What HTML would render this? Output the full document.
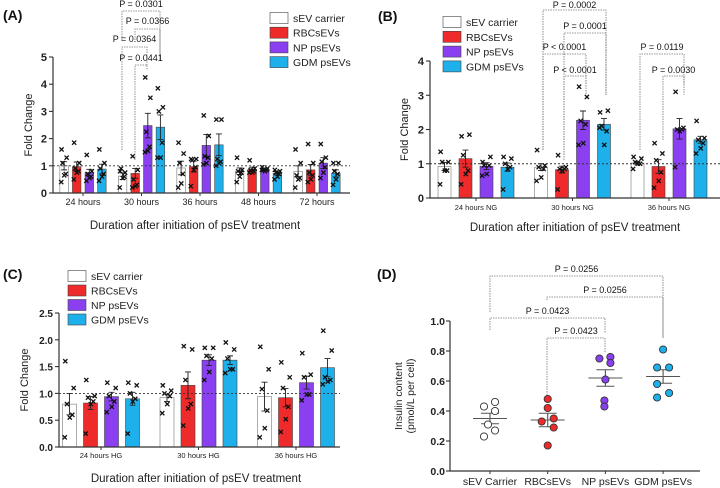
<!DOCTYPE html>
<html><head><meta charset="utf-8">
<style>
html,body{margin:0;padding:0;background:#fff;}
svg{display:block;font-family:"Liberation Sans",Arial,sans-serif;}
</style></head>
<body>
<svg id="fig" width="720" height="488" viewBox="0 0 720 488"></svg>
<script>
// ---------- DATA ----------
const seriesNames = ["sEV carrier","RBCsEVs","NP psEVs","GDM psEVs"];
const seriesColors = ["#ffffff","#ee2a2a","#8a3ff0","#1db0ea"];

const catsA = ["24 hours","30 hours","36 hours","48 hours","72 hours"];
const meansA = [[1.0,0.97,0.75,0.88],[0.62,0.72,2.48,2.42],[0.92,0.97,1.75,1.77],[0.8,0.87,0.85,0.72],[0.8,0.85,1.1,0.72]];
const errA = [[0.15,0.17,0.12,0.18],[0.12,0.18,0.45,0.45],[0.25,0.2,0.4,0.4],[0.12,0.08,0.04,0.06],[0.2,0.2,0.2,0.13]];
const ptsA = [
 [[1.6,1.3,1.1,0.7,0.65,0.4],[1.85,1.1,0.9,0.8,0.75,0.5],[1.4,0.8,0.7,0.6,0.55,0.45],[1.6,1.1,0.9,0.7,0.6,0.45]],
 [[0.8,0.75,0.9,0.6,0.55,0.2],[1.35,0.85,0.5,0.3,0.25,0.2],[4.25,3.5,2.25,1.7,1.55,1.5],[3.85,3.15,3.0,1.85,1.3,1.3]],
 [[1.85,1.45,1.1,0.7,0.35,0.2],[1.25,1.25,1.2,0.95,0.85,0.25],[2.85,2.1,1.35,1.3,1.1,1.05],[2.7,2.7,1.25,1.15,1.1,1.0]],
 [[1.3,0.85,0.8,0.75,0.6,0.4],[1.2,0.9,0.85,0.8,0.75,0.75],[0.95,0.9,0.85,0.85,0.8,0.85],[0.85,0.8,0.75,0.7,0.6,0.5]],
 [[1.6,1.1,0.65,0.55,0.5,0.2],[1.8,1.1,0.75,0.65,0.5,0.4],[1.8,1.3,1.15,0.95,0.75,0.55],[1.1,1.1,0.8,0.7,0.5,0.3]]
];
const ticksA = [0,1,2,3,4,5];
const tickLabelsA = ["0","1","2","3","4","5"];

const catsB = ["24 hours NG","30 hours NG","36 hours NG"];
const meansB = [[0.92,1.15,0.93,0.9],[0.9,0.83,2.27,2.15],[1.02,0.92,2.02,1.7]];
const errB = [[0.12,0.25,0.1,0.12],[0.1,0.1,0.27,0.17],[0.05,0.2,0.3,0.1]];
const ptsB = [
 [[1.35,1.05,1.05,0.8,0.8,0.4],[1.8,1.85,1.25,0.8,0.7,0.4],[1.05,1.2,0.95,0.95,0.7,0.65],[1.2,1.15,1.0,0.9,0.85,0.25]],
 [[1.4,0.95,0.9,0.85,0.6,0.5],[1.25,0.9,0.85,0.85,0.8,0.25],[3.25,2.95,2.25,2.15,1.6,1.55],[2.5,2.55,2.1,1.95,1.55,2.05]],
 [[1.2,1.15,1.05,1.0,1.0,0.85],[1.6,1.3,1.1,0.75,0.5,0.3],[3.1,2.05,2.0,2.0,1.95,0.9],[2.25,1.75,1.7,1.6,1.45,1.3]]
];
const ticksB = [0,1,2,3,4];
const tickLabelsB = ["0","1","2","3","4"];

const catsC = ["24 hours HG","30 hours HG","36 hours HG"];
const meansC = [[0.8,0.82,0.94,0.9],[0.92,1.15,1.62,1.62],[0.94,0.92,1.2,1.48]];
const errC = [[0.2,0.12,0.08,0.12],[0.07,0.25,0.1,0.08],[0.27,0.17,0.12,0.17]];
const ptsC = [
 [[1.6,1.1,0.8,0.6,0.55,0.18],[1.25,0.95,0.92,0.85,0.8,0.25],[1.2,1.1,0.95,0.85,0.75,0.65],[1.2,1.15,1.0,0.9,0.85,0.25]],
 [[1.15,1.05,1.0,0.95,0.8,0.63],[1.88,1.82,1.25,0.8,0.72,0.4],[1.85,1.85,1.7,1.65,1.4,1.25],[1.95,1.82,1.65,1.45,1.45,1.38]],
 [[1.87,1.45,1.08,0.68,0.35,0.18],[1.58,1.3,1.1,0.75,0.52,0.28],[1.75,1.35,1.3,0.98,0.98,0.87],[2.17,1.8,1.3,1.25,1.22,1.17]]
];
const ticksC = [0,0.5,1,1.5,2,2.5];
const tickLabelsC = ["0.0","0.5","1.0","1.5","2.0","2.5"];

const catsD = ["sEV Carrier","RBCsEVs","NP psEVs","GDM psEVs"];
const ptsD = [[0.43,0.46,0.40,0.31,0.27,0.23],[0.48,0.42,0.33,0.35,0.29,0.17],[0.75,0.76,0.72,0.61,0.47,0.43],[0.81,0.69,0.69,0.58,0.52,0.49]];
const meansD = [0.35,0.34,0.62,0.63];
const errD = [0.035,0.045,0.055,0.045];
const ticksD = [0,0.2,0.4,0.6,0.8,1.0];
const tickLabelsD = ["0.0","0.2","0.4","0.6","0.8","1.0"];

// ---------- DRAW ----------
const NS="http://www.w3.org/2000/svg";
const svg=document.getElementById('fig');
function mk(tag,attrs,parent,txt){const e=document.createElementNS(NS,tag);for(const k in attrs)e.setAttribute(k,attrs[k]);if(txt!==undefined)e.textContent=txt;(parent||svg).appendChild(e);return e;}
const jit=[-0.3,0.3,-0.18,0.2,0.02,-0.34];

function barPanel(p){
  const g=mk('g',{});
  
  
  const y=v=>p.y0-(v/p.ymax)*(p.y0-p.ytop);
  const gx=i=>p.gx0+i*p.gstep;
  p.cats.forEach((c,i)=>{
    for(let s=0;s<4;s++){
      const cx=gx(i)+(s-1.5)*p.bstep;
      const r=mk('rect',{x:cx-p.bw/2,y:y(p.means[i][s]),width:p.bw,height:p.y0-y(p.means[i][s]),fill:seriesColors[s],stroke:s===0?'#777':'#444','stroke-width':0.6},g);
      
      
      const e=p.err[i][s],m=p.means[i][s];
      const eb=mk('path',{d:`M${cx} ${y(m-e)}V${y(m+e)}M${cx-3} ${y(m+e)}H${cx+3}M${cx-3} ${y(m-e)}H${cx+3}`,stroke:'#222','stroke-width':0.9,fill:'none'},g);
      
      
      p.pts[i][s].forEach((v,k)=>{
        const px=cx+jit[k]*p.bw, py=y(v), d=2.1;
        const mkp=mk('path',{d:`M${px-d} ${py-d}L${px+d} ${py+d}M${px-d} ${py+d}L${px+d} ${py-d}`,stroke:'#111','stroke-width':1.3},g);
        
        
      });
    }
    const t=mk('text',{x:gx(i),y:p.y0+p.labDy,'text-anchor':'middle','font-size':p.catFs,fill:'#222'},g,c);
    
    
  });
  const ax=mk('path',{d:`M${p.x0} ${p.ytop}V${p.y0}H${p.xend}`,stroke:'#333','stroke-width':1.2,fill:'none'},g);
  
  
  p.cats.forEach((c,i)=>{mk('path',{d:`M${gx(i)} ${p.y0}V${p.y0+3}`,stroke:'#333'},g);});
  p.ticks.forEach((v,k)=>{
    mk('path',{d:`M${p.x0-4} ${y(v)}H${p.x0}`,stroke:'#333','stroke-width':1.1},g);
    const t=mk('text',{x:p.x0-6,y:y(v)+4,'text-anchor':'end','font-size':p.tickFs,'font-weight':'bold',fill:'#222'},g,p.tickLabels[k]);
    
    
  });
  const ref=mk('path',{d:`M${p.x0} ${y(1)}H${p.xend}`,stroke:'#333','stroke-width':0.9,'stroke-dasharray':'2,2'},g);
  
  
  const yt=mk('text',{x:p.ylx,y:(p.y0+p.ytop)/2,'text-anchor':'middle','font-size':11,fill:'#222',transform:`rotate(-90 ${p.ylx} ${(p.y0+p.ytop)/2})`},g,'Fold Change');
  
  
  const xt=mk('text',{x:p.xtx,y:p.xty,'text-anchor':'middle','font-size':11.5,fill:'#222'},g,'Duration after initiation of psEV treatment');
  
  
  const pl=mk('text',{x:p.plx,y:p.ply,'font-size':14,'font-weight':'bold',fill:'#111'},g,p.label);
  
  
  seriesNames.forEach((n,s)=>{
    const ly=p.legY+s*p.legStep;
    const lr=mk('rect',{x:p.legX,y:ly-5.5,width:18,height:11,fill:seriesColors[s],stroke:'#444','stroke-width':0.6},g);
    
    
    const lt=mk('text',{x:p.legX+23,y:ly+4,'font-size':10.5,fill:'#222'},g,n);
    
    
  });
  return g;
}

function bracket(g,x1,x2,yl,leg1,leg2,label,ty){
  const b=mk('path',{d:`M${x1} ${leg1}V${yl}H${x2}V${leg2}`,stroke:'#777','stroke-width':0.8,fill:'none','stroke-dasharray':'1.5,1'},g);
  
  
  const t=mk('text',{x:(x1+x2)/2,y:ty,'text-anchor':'middle','font-size':9,fill:'#111'},g,label);
  
  
}

const gA=barPanel({name:'panel-a',label:'(A)',plx:3,ply:20,cats:catsA,means:meansA,err:errA,pts:ptsA,ticks:ticksA,tickLabels:tickLabelsA,
  ymax:5,y0:193,ytop:57,x0:53,xend:350,gx0:83,gstep:58.5,bw:8.5,bstep:12.6,labDy:12,catFs:9,tickFs:11,ylx:32,xtx:195,xty:229,
  legX:270,legY:18,legStep:14.7});
bracket(gA,122,160,11,40,60,'P = 0.0301',7);
bracket(gA,135,160,29,40,60,'P = 0.0366',24);
bracket(gA,122,147,47,150,65,'P = 0.0364',42);
bracket(gA,135,147,65,160,70,'P = 0.0441',61);

const gB=barPanel({name:'panel-b',label:'(B)',plx:378,ply:21,cats:catsB,means:meansB,err:errB,pts:ptsB,ticks:ticksB,tickLabels:tickLabelsB,
  ymax:4,y0:198,ytop:61,x0:430,xend:720,gx0:476,gstep:96.5,bw:13,bstep:21,labDy:12,catFs:7.5,tickFs:11,ylx:408,xtx:575,xty:231,
  legX:443,legY:22,legStep:14.8});
bracket(gB,543,606,10,150,95,'P = 0.0002',8);
bracket(gB,564,606,33,155,95,'P = 0.0001',29);
bracket(gB,543,586,54,150,95,'P < 0.0001',50);
bracket(gB,564,586,76,160,85,'P < 0.0001',73);
bracket(gB,640,684,54,150,95,'P = 0.0119',50);
bracket(gB,663,684,76,140,85,'P = 0.0030',73);

const gC=barPanel({name:'panel-c',label:'(C)',plx:3,ply:279,cats:catsC,means:meansC,err:errC,pts:ptsC,ticks:ticksC,tickLabels:tickLabelsC,
  ymax:2.5,y0:447,ytop:313,x0:59,xend:340,gx0:101,gstep:97.5,bw:14,bstep:21,labDy:11,catFs:7.5,tickFs:10,ylx:28,xtx:196,xty:482,
  legX:68,legY:276,legStep:14.5});

// Panel D
(function(){
  const g=mk('g',{});
  
  
  const y0=471,ytop=321,x0=450,xend=700;
  const y=v=>y0-v*(y0-ytop)/1.0;
  const cx=i=>490+i*57.7;
  const jx=[[-6,5,5,-2,5,-6],[0,0,-6,6,6,0],[-6,5,5,0,-1,-1],[0,-6,6,-6,6,-6]];
  ptsD.forEach((arr,i)=>{
    const m=mk('path',{d:`M${cx(i)-17} ${y(meansD[i])}H${cx(i)+17}M${cx(i)-9} ${y(meansD[i]+errD[i])}H${cx(i)+9}M${cx(i)-9} ${y(meansD[i]-errD[i])}H${cx(i)+9}M${cx(i)} ${y(meansD[i]-errD[i])}V${y(meansD[i]+errD[i])}`,stroke:'#555','stroke-width':1.1,fill:'none'},g);
    
    
    arr.forEach((v,k)=>{
      const c=mk('circle',{cx:cx(i)+jx[i][k],cy:y(v),r:3.6,fill:seriesColors[i],stroke:'#333','stroke-width':0.9},g);
      
      
    });
    mk('path',{d:`M${cx(i)} ${y0}V${y0+3}`,stroke:'#333'},g);
    const t=mk('text',{x:cx(i),y:y0+14,'text-anchor':'middle','font-size':10.5,fill:'#222'},g,catsD[i]);
    
    
  });
  const ax=mk('path',{d:`M${x0} ${ytop}V${y0}H${xend}`,stroke:'#333','stroke-width':1.2,fill:'none'},g);
  
  
  ticksD.forEach((v,k)=>{
    mk('path',{d:`M${x0-4} ${y(v)}H${x0}`,stroke:'#333','stroke-width':1.1},g);
    const t=mk('text',{x:x0-5,y:y(v)+4,'text-anchor':'end','font-size':10.5,'font-weight':'bold',fill:'#222'},g,tickLabelsD[k]);
    
    
  });
  const yt=mk('text',{'text-anchor':'middle','font-size':10.5,fill:'#222',transform:'translate(402 396) rotate(-90)'},g);
  
  
  mk('tspan',{x:0,y:0},yt,'Insulin content');
  mk('tspan',{x:0,y:12},yt,'(pmol/L per cell)');
  const pl=mk('text',{x:377,y:279,'font-size':14,'font-weight':'bold',fill:'#111'},g,'(D)');
  
  
  bracket(g,490,663,276,312,338,'P = 0.0256',272);
  bracket(g,547,663,297,300,338,'P = 0.0256',293);
  bracket(g,490,605,318,330,333,'P = 0.0423',314);
  bracket(g,547,605,338,395,352,'P = 0.0423',334);
})();
</script>
</body></html>
